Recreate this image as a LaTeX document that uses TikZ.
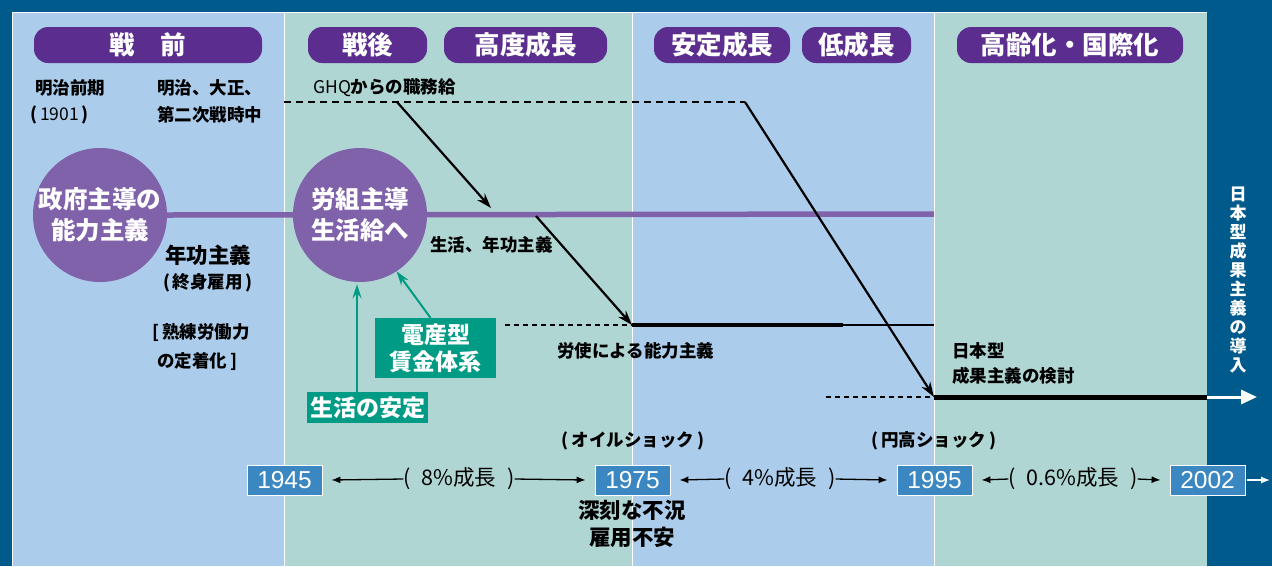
\documentclass[tikz,border=0pt]{standalone}
\usepackage{fontspec}
\setmainfont{Noto Sans CJK JP}
\newfontfamily\numfont{Liberation Sans}
\usetikzlibrary{arrows.meta,positioning}

\definecolor{bgblue}{RGB}{0,90,140}
\definecolor{paleblue}{RGB}{171,205,235}
\definecolor{paleteal}{RGB}{176,214,212}
\definecolor{pillpurple}{RGB}{91,45,142}
\definecolor{ballpurple}{RGB}{128,98,170}
\definecolor{boxgreen}{RGB}{0,155,132}
\definecolor{yearblue}{RGB}{59,135,193}

\tikzset{
  pill/.style={fill=pillpurple, text=white, rounded corners=14pt, minimum height=36pt,
    inner sep=0pt, font=\fontsize{25.5}{25.5}\selectfont\bfseries},
  ball/.style={circle, fill=ballpurple, text=white, minimum size=134pt, inner sep=0pt,
    align=center, font=\fontsize{24.5}{31}\selectfont\bfseries},
  lbl/.style={inner sep=0pt, font=\fontsize{17.5}{17.5}\selectfont\bfseries},
  biglbl/.style={inner sep=0pt, font=\fontsize{21.5}{21.5}\selectfont\bfseries},
  gbox/.style={fill=boxgreen, text=white, inner sep=0pt, minimum width=121pt, align=center,
    font=\fontsize{23}{27}\selectfont\bfseries},
  yearbox/.style={fill=yearblue, draw=white, line width=0.8pt, text=white, minimum width=75pt,
    minimum height=30pt, inner sep=0pt, font=\numfont\fontsize{24.5}{24.5}\selectfont},
  rate/.style={inner sep=0pt, font=\fontsize{21.5}{21.5}\selectfont},
  shiftarrow/.style={-{Stealth[length=15pt,width=10pt]}, line width=2.2pt},
  garrow/.style={-{Stealth[length=14pt,width=9pt]}, boxgreen, line width=2pt},
  tltip/.style={-{Latex[length=9pt,width=7pt]}, line width=1.3pt},
  dash line/.style={line width=1.8pt, dash pattern=on 7pt off 5pt},
  thin dash/.style={line width=1.2pt, dash pattern=on 5pt off 4pt}
}

\begin{document}
\begin{tikzpicture}[x=1pt,y=-1pt]

    \fill[bgblue] (0,0) rectangle (1272,566);
    \useasboundingbox (0,0) rectangle (1272,566);

    % panels
    \foreach \xa/\xb/\col in {12/284/paleblue, 284/632/paleteal, 632/934/paleblue, 934/1207/paleteal}
    \fill[\col] (\xa,12) rectangle (\xb,566);
    \draw[white, line width=0.8pt] (12,566) -- (12,12) -- (1207,12);
    \foreach \x in {284, 632, 934}
    \draw[white, line width=1pt] (\x,12) -- (\x,566);

    % period headings
    \foreach \n/\x/\w/\t in {prewar/148/228/{戦\quad 前}, postwar/367.5/119/戦後, highgrowth/525.5/163/高度成長,
                              stablegrowth/722/136/安定成長, lowgrowth/856.5/109/低成長, aging/1070/226/高齢化・国際化}
    \node[pill, minimum width=\w pt] (\n) at (\x,45) {\t};

    \node[lbl, anchor=west] (meiji) at (35,88) {明治前期};
    \node[lbl, anchor=west] (meijiyr) at (30,115) {(\,\textmd{1901}\,)};
    \node[lbl, anchor=west] (taisho) at (157,88) {明治、大正、};
    \node[lbl, anchor=west] (wartime) at (157,115) {第二次戦時中};
    \node[lbl, anchor=west, font=\fontsize{17.5}{17.5}\selectfont] (ghq) at (313,88) {GHQ\textbf{からの職務給}};

    % main line and circles
    \coordinate (pEnd) at (934,214);
    \node[ball] (gov) at (100,215) {政府主導の\\能力主義};
    \draw[ballpurple, line width=5.5pt] (gov.east) -- (pEnd);
    \node[ball] (union) at (360,215) {労組主導\\生活給へ};

    \node[biglbl] (seniority) at (208,255) {年功主義};
    \node[lbl] (lifetime) at (208,283) {(\,終身雇用\,)};
    \node[lbl, anchor=west] (skill1) at (152,333) {[\,熟練労働力};
    \node[lbl, anchor=west] (skill2) at (157,362) {の定着化\,]};
    \node[lbl, anchor=west] (livesen) at (430,245) {生活、年功主義};
    \node[lbl, anchor=west] (ability) at (557,351) {労使による能力主義};
    \node[lbl, anchor=west] (jptype1) at (952,351) {日本型};
    \node[lbl, anchor=west] (jptype2) at (952,376) {成果主義の検討};

    % green boxes
    \node[gbox, minimum height=60pt] (densan) at (435.5,348) {電産型\\賃金体系};
    \node[gbox, minimum height=31pt] (stable) at (367.5,407.5) {生活の安定};
    \draw[garrow] ([xshift=-10.5pt]stable.north) -- ([xshift=-3pt,yshift=-2pt]union.south);
    \draw[garrow] ([xshift=-5pt]densan.north) -- (union.-57);

    % wage system shifts
    \coordinate (ghqL) at (284,102);
    \coordinate (ghqR) at (745,102);
    \coordinate (ghqA) at (397,102);
    \coordinate (tipA) at (491,208);
    \coordinate (startB) at (536,216);
    \coordinate (abiL) at (505,325);
    \coordinate (abiA) at (632,325);
    \coordinate (abiB) at (843,325);
    \coordinate (abiC) at (934,325);
    \coordinate (resL) at (826,397);
    \coordinate (resA) at (934,397);
    \coordinate (resB) at (1207,397);
    \coordinate (resC) at (1257,397);

    \draw[dash line] (ghqL) -- (ghqR);
    \draw[shiftarrow] (ghqR) -- (resA);
    \draw[shiftarrow] (ghqA) -- (tipA);
    \draw[shiftarrow] (startB) -- (abiA);
    \draw[thin dash] (abiL) -- (abiA);
    \draw[line width=4.5pt] (abiA) -- (abiB);
    \draw[line width=1.2pt] (abiB) -- (abiC);
    \draw[thin dash] (resL) -- (resA);
    \draw[line width=5pt] (resA) -- (resB);
    \draw[white, line width=3pt, -{Triangle[length=16pt,width=14pt]}] (resB) -- (resC);

    \node[white, inner sep=0pt, align=center, font=\fontsize{17}{18.9}\selectfont\bfseries]
        (intro) at (1238,280) {日\\本\\型\\成\\果\\主\\義\\の\\導\\入};

    % time line
    \node[lbl] (oil) at (633,441) {(\,オイルショック\,)};
    \node[lbl] (yen) at (934,441) {(\,円高ショック\,)};

    \foreach \yr/\x in {1945/284.5, 1975/632.5, 1995/934.5, 2002/1207.5}
    \node[yearbox] (y\yr) at (\x,480) {\yr};

    \node[rate] (r8) at (459,479) {(\enspace 8\%成長\enspace)};
    \node[rate] (r4) at (780,479) {(\enspace 4\%成長\enspace)};
    \node[rate] (r06) at (1073,479) {(\enspace 0.6\%成長\enspace)};

    \draw[tltip] (r8.west) -- ([xshift=9pt]y1945.east);
    \draw[tltip] (r8.east) -- ([xshift=-9pt]y1975.west);
    \draw[tltip] (r4.west) -- ([xshift=9pt]y1975.east);
    \draw[tltip] (r4.east) -- ([xshift=-9pt]y1995.west);
    \draw[tltip] (r06.west) -- ([xshift=9pt]y1995.east);
    \draw[tltip] (r06.east) -- ([xshift=-9pt]y2002.west);
    \coordinate (future) at (1270,480);
    \draw[tltip, white] ([xshift=2pt]y2002.east) -- (future);

    \node[biglbl] (slump) at (632,510) {深刻な不況};
    \node[biglbl] (jobs) at (632,537) {雇用不安};

\end{tikzpicture}
\end{document}
